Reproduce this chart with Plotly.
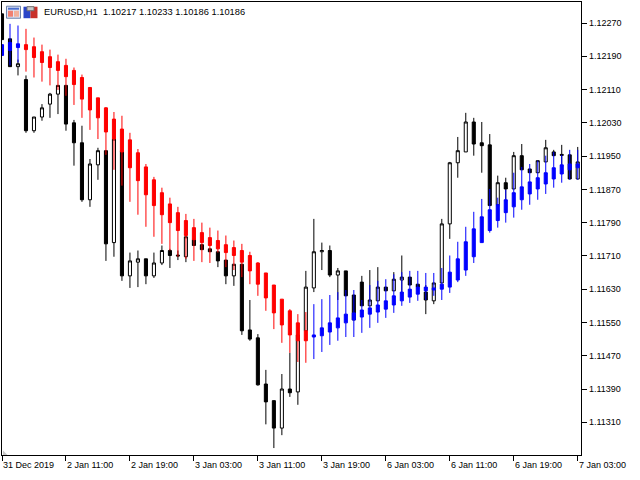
import plotly.graph_objects as go

# EURUSD H1 bars, index 0 = 31 Dec 2019, one tick label every 8 bars
bar_index = list(range(73))
x_tick_index = [0, 8, 16, 24, 32, 40, 48, 56, 64, 72]
x_tick_labels = ["31 Dec 2019", "2 Jan 11:00", "2 Jan 19:00", "3 Jan 03:00", "3 Jan 11:00",
                 "3 Jan 19:00", "6 Jan 03:00", "6 Jan 11:00", "6 Jan 19:00", "7 Jan 03:00"]
y_ticks = [1.11310, 1.11390, 1.11470, 1.11550, 1.11630, 1.11710, 1.11790,
           1.11870, 1.11950, 1.12030, 1.12110, 1.12190, 1.12270]
header = "EURUSD,H1  1.10217 1.10233 1.10186 1.10186"

# black / white candles
main_open = [
    1.12292, 1.12232, 1.12165, 1.12134, 1.12011, 1.12044, 1.12075, 1.12099, 1.12120, 1.12030,
    1.11982, 1.11845, 1.11929, 1.11963, 1.11742, 1.11963, 1.11662, 1.11695, 1.11703, 1.11662,
    1.11693, 1.11723, 1.11712, 1.11708, 1.11749, 1.11737, 1.11727, 1.11720, 1.11700, 1.11662,
    1.11690, 1.11532, 1.11513, 1.11402, 1.11362, 1.11296, 1.11390, 1.11383, 1.11530, 1.11633,
    1.11720, 1.11723, 1.11664, 1.11674, 1.11616, 1.11647, 1.11590, 1.11602, 1.11635, 1.11626,
    1.11652, 1.11659, 1.11642, 1.11623, 1.11602, 1.11645, 1.11787, 1.11934, 1.11960, 1.12032,
    1.11982, 1.11977, 1.11833, 1.11886, 1.11871, 1.11951, 1.11919, 1.11910, 1.11936, 1.11960,
    1.11954, 1.11953, 1.11895]
main_high = [
    1.12292, 1.12232, 1.12182, 1.12144, 1.12044, 1.12075, 1.12102, 1.12120, 1.12120, 1.12037,
    1.12023, 1.11943, 1.11970, 1.11963, 1.11991, 1.11963, 1.11718, 1.11723, 1.11703, 1.11718,
    1.11735, 1.11727, 1.11723, 1.11756, 1.11749, 1.11737, 1.11727, 1.11720, 1.11700, 1.11690,
    1.11690, 1.11604, 1.11522, 1.11436, 1.11362, 1.11426, 1.11477, 1.11520, 1.11674, 1.11799,
    1.11742, 1.11735, 1.11681, 1.11674, 1.11616, 1.11662, 1.11676, 1.11683, 1.11635, 1.11671,
    1.11711, 1.11659, 1.11642, 1.11640, 1.11645, 1.11799, 1.11936, 1.11996, 1.12054, 1.12042,
    1.12032, 1.12003, 1.11903, 1.11898, 1.11960, 1.11979, 1.11919, 1.11939, 1.11989, 1.11965,
    1.11977, 1.11953, 1.11972]
main_low = [
    1.12230, 1.12165, 1.12144, 1.12006, 1.12006, 1.12035, 1.12042, 1.12051, 1.12011, 1.11927,
    1.11840, 1.11828, 1.11893, 1.11698, 1.11708, 1.11650, 1.11633, 1.11635, 1.11642, 1.11657,
    1.11688, 1.11681, 1.11700, 1.11695, 1.11735, 1.11725, 1.11720, 1.11683, 1.11642, 1.11638,
    1.11520, 1.11506, 1.11398, 1.11305, 1.11248, 1.11279, 1.11371, 1.11352, 1.11520, 1.11623,
    1.11676, 1.11659, 1.11604, 1.11614, 1.11556, 1.11590, 1.11590, 1.11602, 1.11626, 1.11626,
    1.11623, 1.11640, 1.11635, 1.11570, 1.11594, 1.11645, 1.11751, 1.11898, 1.11960, 1.11951,
    1.11910, 1.11831, 1.11833, 1.11845, 1.11871, 1.11917, 1.11910, 1.11910, 1.11936, 1.11951,
    1.11929, 1.11895, 1.11895]
main_close = [
    1.12230, 1.12165, 1.12172, 1.12011, 1.12044, 1.12066, 1.12099, 1.12120, 1.12027, 1.11982,
    1.11845, 1.11931, 1.11963, 1.11739, 1.11991, 1.11662, 1.11698, 1.11703, 1.11662, 1.11693,
    1.11723, 1.11711, 1.11710, 1.11756, 1.11735, 1.11725, 1.11720, 1.11698, 1.11662, 1.11690,
    1.11530, 1.11510, 1.11400, 1.11359, 1.11296, 1.11390, 1.11381, 1.11520, 1.11635, 1.11720,
    1.11723, 1.11664, 1.11674, 1.11614, 1.11556, 1.11590, 1.11604, 1.11635, 1.11626, 1.11654,
    1.11659, 1.11640, 1.11635, 1.11604, 1.11645, 1.11787, 1.11934, 1.11963, 1.12032, 1.11979,
    1.11975, 1.11831, 1.11886, 1.11871, 1.11951, 1.11917, 1.11910, 1.11939, 1.11970, 1.11951,
    1.11952, 1.11895, 1.11936]

# red / blue smoothed candles drawn on top
signal_open = [
    1.12192, 1.12204, 1.12211, 1.12218, 1.12213, 1.12201, 1.12189, 1.12177, 1.12168, 1.12156,
    1.12139, 1.12115, 1.12090, 1.12066, 1.12039, 1.12015, 1.11989, 1.11958, 1.11924, 1.11893,
    1.11862, 1.11835, 1.11814, 1.11795, 1.11778, 1.11766, 1.11754, 1.11747, 1.11737, 1.11730,
    1.11723, 1.11711, 1.11693, 1.11669, 1.11640, 1.11606, 1.11578, 1.11549, 1.11530, 1.11515,
    1.11518, 1.11527, 1.11537, 1.11549, 1.11556, 1.11563, 1.11570, 1.11575, 1.11582, 1.11592,
    1.11602, 1.11611, 1.11618, 1.11626, 1.11628, 1.11630, 1.11635, 1.11652, 1.11676, 1.11708,
    1.11742, 1.11771, 1.11795, 1.11814, 1.11828, 1.11845, 1.11859, 1.11871, 1.11883, 1.11895,
    1.11907, 1.11917, 1.11922]
signal_high = [
    1.12218, 1.12268, 1.12264, 1.12256, 1.12235, 1.12218, 1.12206, 1.12194, 1.12184, 1.12163,
    1.12146, 1.12115, 1.12090, 1.12068, 1.12056, 1.12047, 1.12006, 1.11967, 1.11931, 1.11900,
    1.11874, 1.11850, 1.11828, 1.11811, 1.11799, 1.11790, 1.11778, 1.11771, 1.11759, 1.11747,
    1.11739, 1.11720, 1.11695, 1.11669, 1.11640, 1.11606, 1.11582, 1.11570, 1.11575, 1.11594,
    1.11606, 1.11616, 1.11623, 1.11628, 1.11628, 1.11604, 1.11640, 1.11650, 1.11654, 1.11666,
    1.11671, 1.11674, 1.11674, 1.11669, 1.11669, 1.11681, 1.11711, 1.11744, 1.11780, 1.11816,
    1.11847, 1.11871, 1.11850, 1.11869, 1.11910, 1.11924, 1.11931, 1.11939, 1.11951, 1.11960,
    1.11953, 1.11965, 1.11965]
signal_low = [
    1.12192, 1.12168, 1.12175, 1.12153, 1.12139, 1.12129, 1.12120, 1.12109, 1.12095, 1.12073,
    1.12042, 1.12013, 1.11991, 1.11953, 1.11917, 1.11879, 1.11840, 1.11809, 1.11780, 1.11756,
    1.11739, 1.11723, 1.11708, 1.11703, 1.11698, 1.11695, 1.11693, 1.11718, 1.11683, 1.11676,
    1.11659, 1.11642, 1.11614, 1.11578, 1.11534, 1.11501, 1.11477, 1.11455, 1.11453, 1.11462,
    1.11479, 1.11496, 1.11506, 1.11515, 1.11515, 1.11525, 1.11537, 1.11549, 1.11561, 1.11573,
    1.11590, 1.11597, 1.11602, 1.11604, 1.11614, 1.11604, 1.11621, 1.11647, 1.11662, 1.11693,
    1.11742, 1.11766, 1.11778, 1.11790, 1.11802, 1.11821, 1.11833, 1.11845, 1.11859, 1.11874,
    1.11886, 1.11893, 1.11893]
signal_close = [
    1.12218, 1.12223, 1.12220, 1.12206, 1.12187, 1.12175, 1.12163, 1.12156, 1.12141, 1.12122,
    1.12087, 1.12061, 1.12042, 1.12008, 1.11991, 1.11960, 1.11922, 1.11891, 1.11857, 1.11831,
    1.11809, 1.11790, 1.11771, 1.11759, 1.11749, 1.11742, 1.11735, 1.11727, 1.11718, 1.11711,
    1.11695, 1.11674, 1.11642, 1.11609, 1.11573, 1.11544, 1.11520, 1.11506, 1.11506, 1.11520,
    1.11537, 1.11549, 1.11561, 1.11570, 1.11573, 1.11580, 1.11585, 1.11592, 1.11602, 1.11614,
    1.11623, 1.11630, 1.11635, 1.11635, 1.11633, 1.11642, 1.11671, 1.11703, 1.11744, 1.11775,
    1.11804, 1.11821, 1.11833, 1.11845, 1.11862, 1.11876, 1.11888, 1.11898, 1.11910, 1.11922,
    1.11929, 1.11931, 1.11931]

FONT = "Liberation Sans"
fig = go.Figure()

fig.add_trace(go.Candlestick(
    x=bar_index, open=main_open, high=main_high, low=main_low, close=main_close,
    increasing=dict(line=dict(color="black", width=1), fillcolor="white"),
    decreasing=dict(line=dict(color="black", width=1), fillcolor="black"),
    whiskerwidth=0,
))
fig.add_trace(go.Candlestick(
    x=bar_index, open=signal_open, high=signal_high, low=signal_low, close=signal_close,
    increasing=dict(line=dict(color="#0000ff", width=1), fillcolor="#0000ff"),
    decreasing=dict(line=dict(color="#ff0000", width=1), fillcolor="#ff0000"),
    whiskerwidth=0,
))


# plot area spans 2..581.3 px across and 2.3..455 px down
def px(x):
    return (x - 2.0) / 579.3


def py(y):
    return (455.0 - y) / 452.7


def box(x0, y0, x1, y1, fill, line=None):
    return dict(type="rect", xref="paper", yref="paper", x0=px(x0), x1=px(x1), y0=py(y0), y1=py(y1),
                fillcolor=fill, line=dict(color=line or fill, width=1 if line else 0), layer="above")


shapes = [
    # window icon
    box(6.5, 6.5, 20.5, 18.5, "#dfe6f5", "#6a7fa8"),
    box(8, 8, 19, 10, "#4a6fd0"),
    box(8, 11, 13, 17, "#f08070"),
    box(14, 11, 19, 17, "#f3b09a"),
    # save / template icon
    box(23.5, 7, 30.5, 18.5, "#2a45c8"),
    box(30.5, 7, 37.5, 18.5, "#c8302a"),
    box(27, 7, 34, 11, "#c9c9c9", "#707070"),
    # small grey corner marker
    dict(type="path", xref="paper", yref="paper", layer="above", fillcolor="#c8c8c8", line=dict(width=0),
         path=f"M {px(3)} {py(450.5)} L {px(7.5)} {py(455)} L {px(3)} {py(455)} Z"),
]

annotations = [dict(
    text=header, xref="paper", yref="paper", x=px(43.5), y=py(12), xanchor="left", yanchor="middle",
    showarrow=False, font=dict(family=FONT, size=9.3, color="black"), borderpad=0,
)]
for pos, label in zip(x_tick_index, x_tick_labels):
    annotations.append(dict(
        text=label, xref="x", yref="paper", x=pos, y=0, yshift=-9.5, xanchor="left", yanchor="middle",
        showarrow=False, font=dict(family=FONT, size=9, color="black"), borderpad=0,
    ))

fig.update_layout(
    width=640, height=480,
    margin=dict(l=2, r=58.7, t=2.3, b=25),
    paper_bgcolor="white", plot_bgcolor="white",
    showlegend=False, boxgap=0.45,
    shapes=shapes, annotations=annotations,
    font=dict(family=FONT, size=9, color="black"),
)
fig.update_xaxes(
    range=[0, 72.41], rangeslider_visible=False, showgrid=False, zeroline=False,
    tickmode="array", tickvals=x_tick_index, ticktext=[""] * len(x_tick_index),
    ticks="outside", ticklen=5, tickwidth=1, tickcolor="black",
    showline=True, linecolor="black", linewidth=1.2, mirror=True,
)
fig.update_yaxes(
    range=[1.112313, 1.123205], side="right", showgrid=False, zeroline=False,
    tickmode="array", tickvals=y_ticks, tickformat=".5f",
    ticks="outside", ticklen=5, tickwidth=1, tickcolor="black",
    showline=True, linecolor="black", linewidth=1.2, mirror=True,
)

# the browser's default body margin would push the 640x480 figure off the page
fig.write_html("out.html", post_script="document.body.style.margin='0';",
               config={"displayModeBar": False})
